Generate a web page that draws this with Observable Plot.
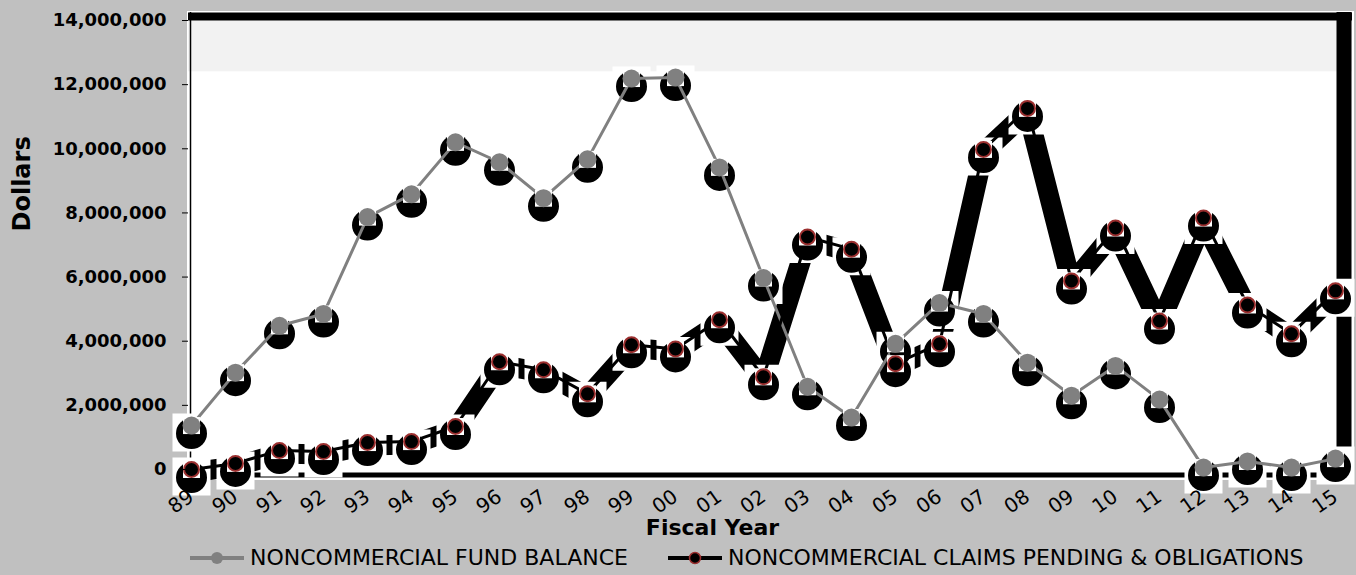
<!DOCTYPE html>
<html>
<head>
<meta charset="utf-8">
<script src="https://cdn.jsdelivr.net/npm/d3@7"></script>
<script src="https://cdn.jsdelivr.net/npm/@observablehq/plot@0.6"></script>
<style>
  html, body { margin: 0; padding: 0; background: #c0c0c0; }
  #chart svg { display: block; }
  #legend { height: 35px; display: flex; align-items: center; padding-left: 190px;
            font-family: "DejaVu Sans", sans-serif; font-size: 22px; color: #000; }
  .item { display: flex; align-items: center; margin-right: 40px; }
  .item svg { margin-right: 6px; }
</style>
</head>
<body>
<div id="chart"></div>
<div id="legend"></div>
<script>
// ---- data ----
const years = ["89","90","91","92","93","94","95","96","97","98","99","00","01","02",
               "03","04","05","06","07","08","09","10","11","12","13","14","15"];
const fundBalance = [1370000, 3020000, 4480000, 4850000, 7870000, 8580000, 10200000, 9580000,
                     8460000, 9670000, 12190000, 12220000, 9420000, 5970000, 2580000, 1620000,
                     3920000, 5190000, 4850000, 3330000, 2300000, 3230000, 2180000, 60000,
                     250000, 60000, 340000];
const claimsPending = [0, 190000, 590000, 560000, 840000, 870000, 1340000, 3360000, 3110000,
                       2360000, 3890000, 3760000, 4670000, 2890000, 7250000, 6870000, 3300000,
                       3920000, 9980000, 11260000, 5880000, 7530000, 4630000, 7840000, 5130000,
                       4230000, 5570000];
const yTicks = [0, 2000000, 4000000, 6000000, 8000000, 10000000, 12000000, 14000000];
const bandRange = [12400000, 14000000];
const seriesNames = ["NONCOMMERCIAL FUND BALANCE", "NONCOMMERCIAL CLAIMS PENDING & OBLIGATIONS"];

const rows = years.map((year, i) => ({year, fund: fundBalance[i], claims: claimsPending[i]}));

const GREY = "#808080";
const RED = "#9b2f2f";
const BIG = 38 / Math.sqrt(Math.PI);   // square side 38
const SMALL = 17 / Math.sqrt(Math.PI); // square side 17

const chart = Plot.plot({
  width: 1356,
  height: 540,
  marginLeft: 188,
  marginRight: 4,
  marginTop: 12,
  marginBottom: 62,
  style: {fontFamily: "DejaVu Sans, sans-serif", background: "#c0c0c0", overflow: "visible"},
  x: {type: "point", domain: years, padding: 0, insetLeft: 1, insetRight: 15},
  y: {domain: [0, 14000000], insetTop: 8, insetBottom: 9},
  marks: [
    Plot.frame({fill: "white", stroke: "white", strokeWidth: 3}),
    Plot.rect([bandRange], {y1: d => d[0], y2: d => d[1], fill: "#f2f2f2"}),
    Plot.ruleY([bandRange[1]], {stroke: "black", strokeWidth: 8, dy: -4}),
    Plot.ruleY([0], {stroke: "black", strokeWidth: 5, dy: 5.5}),
    Plot.ruleX([years[years.length - 1]], {stroke: "black", strokeWidth: 15, dx: 8.5}),
    Plot.ruleX([years[0]], {stroke: "black", strokeWidth: 1.5, dx: -1}),
    // thick shadow line of claims series
    Plot.line(rows, {x: "year", y: "claims", stroke: "black", strokeWidth: 20, dy: 3,
                     strokeLinejoin: "miter", strokeLinecap: "butt"}),
    // white boxes around markers
    Plot.dot(rows, {x: "year", y: "fund", symbol: "square", r: BIG, fill: "white", dy: 7}),
    Plot.dot(rows, {x: "year", y: "claims", symbol: "square", r: BIG, fill: "white", dy: 7}),
    // shadow circles
    Plot.dot(rows, {x: "year", y: "fund", r: 15.5, fill: "black", dy: 8}),
    Plot.dot(rows, {x: "year", y: "claims", r: 15.5, fill: "black", dy: 8}),
    // lines
    Plot.line(rows, {x: "year", y: "fund", stroke: GREY, strokeWidth: 3}),
    Plot.line(rows, {x: "year", y: "claims", stroke: "black", strokeWidth: 3}),
    // small white squares
    Plot.dot(rows, {x: "year", y: "fund", symbol: "square", r: SMALL, fill: "white"}),
    Plot.dot(rows, {x: "year", y: "claims", symbol: "square", r: SMALL, fill: "white"}),
    // markers
    Plot.dot(rows, {x: "year", y: "fund", r: 9, fill: GREY}),
    Plot.dot(rows, {x: "year", y: "claims", r: 7.5, fill: "black", stroke: RED, strokeWidth: 2}),
    // axes
    Plot.axisY({ticks: yTicks, tickFormat: d3.format(","), tickSize: 6, tickPadding: 16,
                fontSize: 18, fontWeight: "bold", label: null}),
    Plot.axisX({tickSize: 0, tickPadding: 16, tickRotate: -35, fontSize: 20, label: null}),
    Plot.text(["Fiscal Year"], {text: d => d, frameAnchor: "bottom", dx: -58, dy: 56,
                                fontSize: 22, fontWeight: "bold"}),
    Plot.text(["Dollars"], {text: d => d, frameAnchor: "left", rotate: -90, dx: -166, dy: -14,
                            fontSize: 24, fontWeight: "bold"})
  ]
});
document.getElementById("chart").append(chart);

// legend
const legend = d3.select("#legend");
const items = [
  {name: seriesNames[0], stroke: GREY, fill: GREY, ring: "none", r: 6},
  {name: seriesNames[1], stroke: "black", fill: "black", ring: RED, r: 5.5}
];
for (const it of items) {
  const div = legend.append("div").attr("class", "item");
  const svg = div.append("svg").attr("width", 54).attr("height", 20);
  svg.append("line").attr("x1", 0).attr("x2", 54).attr("y1", 10).attr("y2", 10)
     .attr("stroke", it.stroke).attr("stroke-width", 4);
  svg.append("circle").attr("cx", 27).attr("cy", 10).attr("r", it.r)
     .attr("fill", it.fill).attr("stroke", it.ring).attr("stroke-width", 1.5);
  div.append("span").text(it.name);
}
</script>
</body>
</html>
